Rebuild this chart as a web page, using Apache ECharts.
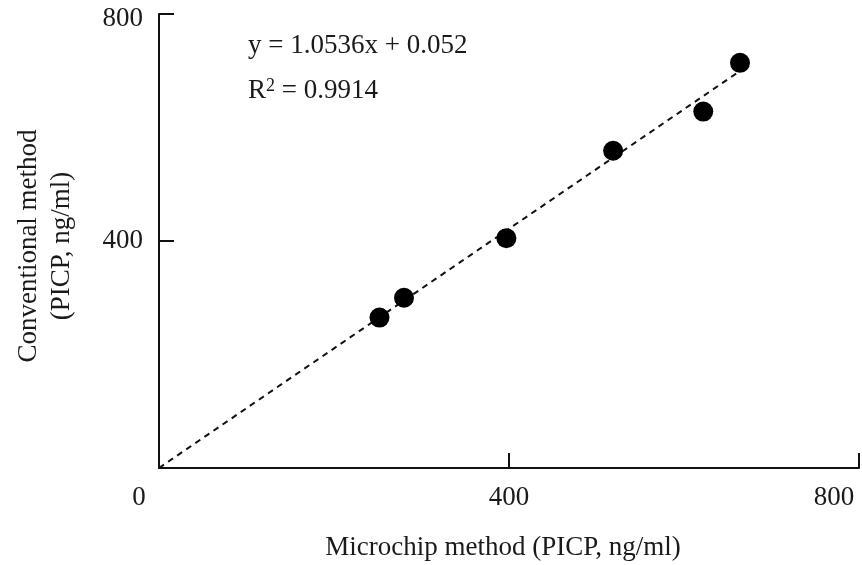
<!DOCTYPE html>
<html><head><meta charset="utf-8">
<script src="https://cdn.jsdelivr.net/npm/echarts@6/dist/echarts.min.js"></script>
<style>html,body{margin:0;padding:0;background:#fff}#c{width:862px;height:565px}</style>
</head><body><div id="c"></div>
<script>
const microchip = [252, 280, 397, 519, 622, 664];
const conventional = [265, 300, 405, 559, 628, 714];
const slope = 1.0536, intercept = 0.052;
const fitX = [0, 664];
const xTicks = [0, 400, 800];
const yTicks = [0, 400, 800];
const eqText = 'y = 1.0536x + 0.052';
const r2Text = 'R{s|2} = 0.9914';
const xTitle = 'Microchip method (PICP, ng/ml)';
const yTitle1 = 'Conventional method';
const yTitle2 = '(PICP, ng/ml)';

const FONT = 'Liberation Serif';
const TXT = '#1a1a1a';
const chart = echarts.init(document.getElementById('c'));
const axisCommon = {
  min: 0, max: 800, interval: 400,
  axisLine: {show: true, lineStyle: {color: '#111', width: 2}},
  axisTick: {show: true, inside: true, length: 15, lineStyle: {color: '#111', width: 2}},
  splitLine: {show: false}
};
chart.setOption({
  animation: false,
  grid: {left: 159, right: 3, top: 14, bottom: 97, containLabel: false},
  xAxis: Object.assign({}, axisCommon, {
    type: 'value',
    axisLabel: {
      margin: 16,
      fontFamily: FONT, fontSize: 27, color: TXT,
      formatter: function (v) {
        if (v === 0) return '{a|0}';
        if (v === 800) return '{b|800}';
        return '{c|' + v + '}';
      },
      rich: {
        a: {fontFamily: FONT, fontSize: 27, color: TXT, padding: [0, 40, 0, 0]},
        b: {fontFamily: FONT, fontSize: 27, color: TXT, padding: [0, 50, 0, 0]},
        c: {fontFamily: FONT, fontSize: 27, color: TXT}
      }
    }
  }),
  yAxis: Object.assign({}, axisCommon, {
    type: 'value',
    axisLabel: {
      margin: 16, showMinLabel: false,
      fontFamily: FONT, fontSize: 27, color: TXT,
      formatter: function (v) {
        if (v === 0) return '';
        if (v === 800) return '{t|800}';
        return '{c|' + v + '}';
      },
      rich: {
        t: {fontFamily: FONT, fontSize: 27, color: TXT, padding: [10, 0, 0, 0]},
        c: {fontFamily: FONT, fontSize: 27, color: TXT}
      }
    }
  }),
  series: [
    {
      type: 'line',
      data: fitX.map(x => [x, slope * x + intercept]),
      symbol: 'none',
      lineStyle: {color: '#111', width: 2, type: [6, 5]},
      z: 1
    },
    {
      type: 'scatter',
      data: microchip.map((x, i) => [x, conventional[i]]),
      symbolSize: 20,
      itemStyle: {color: '#000', opacity: 1},
      z: 2
    }
  ],
  graphic: [
    {type: 'text', left: 248, top: 32, style: {text: eqText, fontFamily: FONT, fontSize: 27, fill: TXT}},
    {type: 'text', left: 248, top: 77, style: {text: r2Text, fontFamily: FONT, fontSize: 27, fill: TXT,
      rich: {s: {fontFamily: FONT, fontSize: 18, fill: TXT, verticalAlign: 'top', padding: [0, 0, 10, 0]}}}},
    {type: 'text', x: 503, y: 548, style: {text: xTitle, fontFamily: FONT, fontSize: 27, fill: TXT, align: 'center', verticalAlign: 'middle'}},
    {type: 'text', x: 29, y: 246, rotation: Math.PI / 2, style: {text: yTitle1, fontFamily: FONT, fontSize: 27, fill: TXT, align: 'center', verticalAlign: 'middle'}},
    {type: 'text', x: 62, y: 246, rotation: Math.PI / 2, style: {text: yTitle2, fontFamily: FONT, fontSize: 27, fill: TXT, align: 'center', verticalAlign: 'middle'}}
  ]
});
</script></body></html>
